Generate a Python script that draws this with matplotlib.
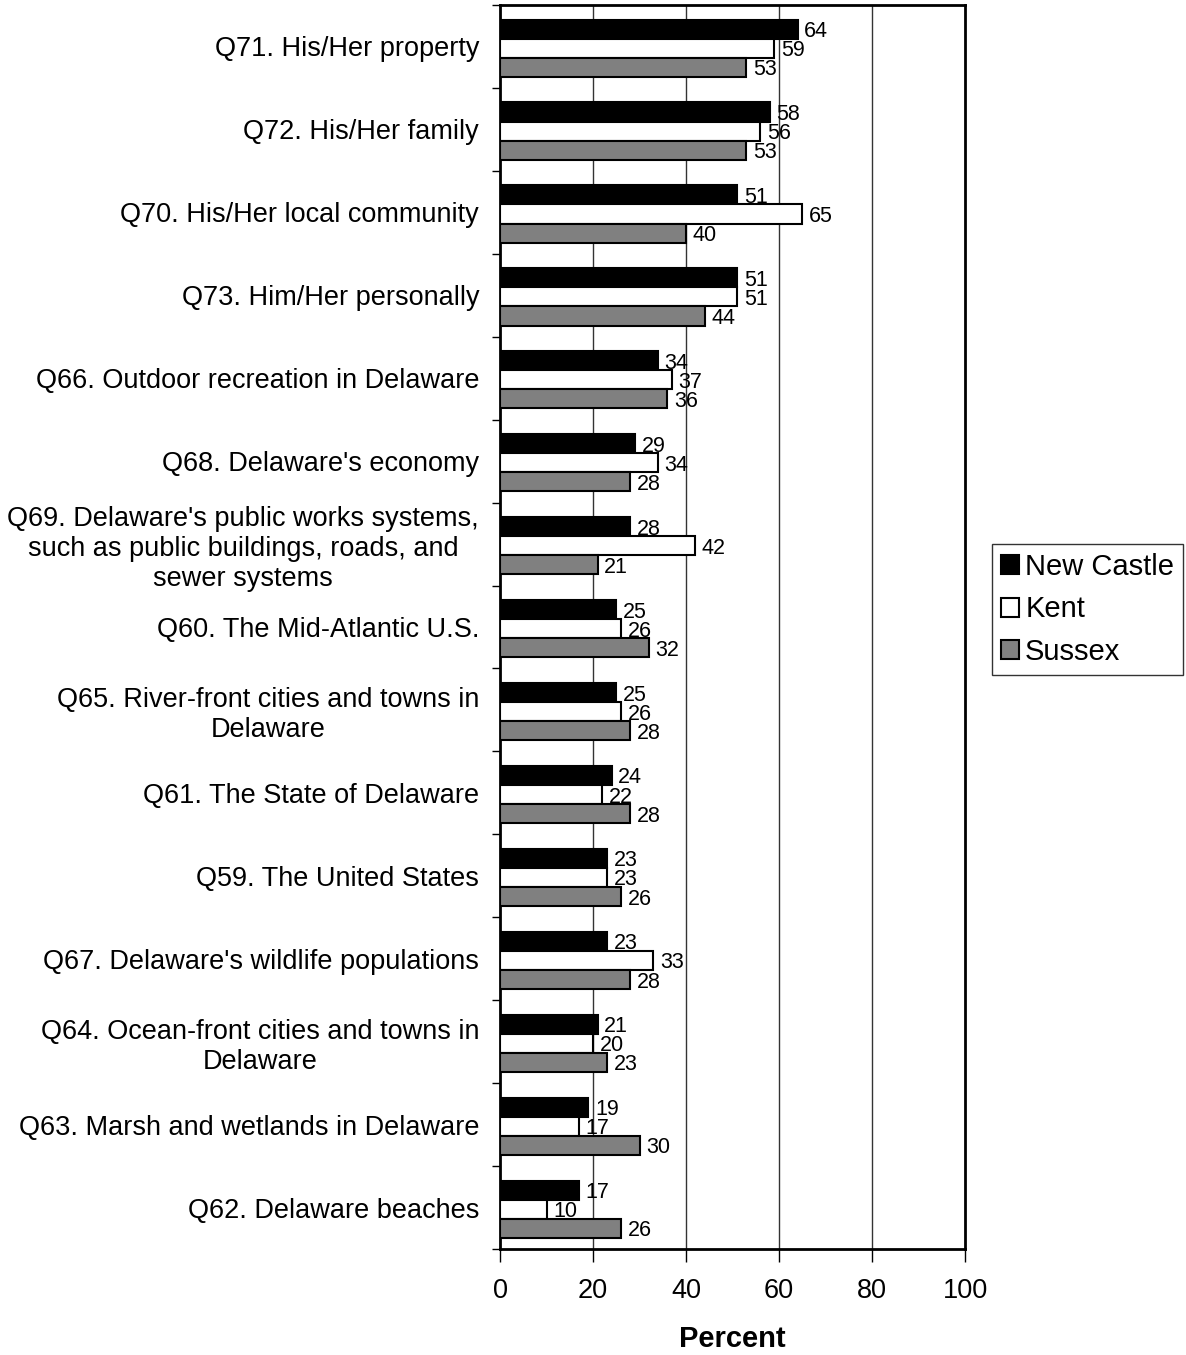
import numpy as np
import matplotlib
matplotlib.use('Agg')
import matplotlib.pyplot as plt
from matplotlib.ticker import FixedLocator

plt.rcParams['font.family'] = ['Liberation Sans', 'DejaVu Sans']

# questions, top to bottom
questions = [
    "Q71. His/Her property",
    "Q72. His/Her family",
    "Q70. His/Her local community",
    "Q73. Him/Her personally",
    "Q66. Outdoor recreation in Delaware",
    "Q68. Delaware's economy",
    "Q69. Delaware's public works systems,\nsuch as public buildings, roads, and\nsewer systems",
    "Q60. The Mid-Atlantic U.S.",
    "Q65. River-front cities and towns in\nDelaware",
    "Q61. The State of Delaware",
    "Q59. The United States",
    "Q67. Delaware's wildlife populations",
    "Q64. Ocean-front cities and towns in\nDelaware",
    "Q63. Marsh and wetlands in Delaware",
    "Q62. Delaware beaches",
]
new_castle = [64, 58, 51, 51, 34, 29, 28, 25, 25, 24, 23, 23, 21, 19, 17]
kent = [59, 56, 65, 51, 37, 34, 42, 26, 26, 22, 23, 33, 20, 17, 10]
sussex = [53, 53, 40, 44, 36, 28, 21, 32, 28, 28, 26, 28, 23, 30, 26]

series = [('New Castle', new_castle, 'black'),
          ('Kent', kent, 'white'),
          ('Sussex', sussex, '#808080')]

fig = plt.figure(figsize=(11.86, 13.55), dpi=100)
ax = fig.add_axes([0.4216, 0.0782, 0.3921, 0.9181])

n = len(questions)
y = np.arange(n)
h = 0.23
for i, (name, vals, col) in enumerate(series):
    pos = y + (i - 1) * h + 0.02
    ax.barh(pos, vals, height=h, color=col, edgecolor='black', linewidth=1.5,
            label=name, zorder=3)
    for p, v in zip(pos, vals):
        ax.text(v + 1.4, p, str(v), va='center_baseline', ha='left',
                fontsize=15.5, zorder=4)

ax.set_xlim(0, 100)
ax.set_ylim(n - 0.5, -0.5)
ax.set_xticks(np.arange(0, 101, 20))
ax.tick_params(axis='x', labelsize=19.5, length=9, width=1, pad=12, direction='out')

ax.set_yticks(y)
ax.set_yticklabels(questions, fontsize=19.5, ha='right', multialignment='center')
ax.tick_params(axis='y', which='major', length=0, pad=15)
ax.yaxis.set_minor_locator(FixedLocator(np.arange(-0.5, n, 1)))
ax.tick_params(axis='y', which='minor', length=6, width=1, direction='out')

for gx in [20, 40, 60, 80]:
    ax.axvline(gx, color='#333333', linewidth=1, zorder=1)

for s in ax.spines.values():
    s.set_linewidth(2)

ax.set_xlabel('Percent', fontsize=21, fontweight='bold', labelpad=15)

leg = ax.legend(loc='upper left', bbox_to_anchor=(1.059, 0.5667), fontsize=21,
                frameon=True, fancybox=False, edgecolor='black', borderpad=0.3,
                handlelength=0.62, handleheight=0.62, handletextpad=0.2,
                labelspacing=0.5, borderaxespad=0)
leg.get_frame().set_linewidth(1)

fig.savefig('out.png', dpi=100)
